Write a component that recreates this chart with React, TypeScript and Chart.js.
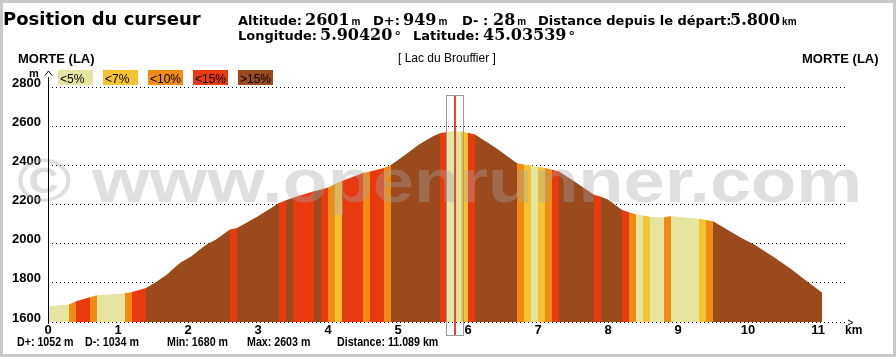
import React, { useEffect, useRef } from 'react';
import { Chart, registerables } from 'chart.js';

Chart.register(...registerables);

const distanceKm = [
  0, 0.3, 0.4, 0.6, 0.7, 1.1, 1.2, 1.4, 1.55, 1.7,
  1.8, 1.9, 2.05, 2.17, 2.26, 2.4, 2.6, 2.7, 3.0, 3.3,
  3.4, 3.5, 3.8, 3.9, 4.0, 4.1, 4.2, 4.5, 4.6, 4.8,
  4.9, 5.1, 5.3, 5.5, 5.6, 5.7, 5.8, 5.9, 6.0, 6.1,
  6.4, 6.7, 6.8, 6.9, 7.0, 7.1, 7.2, 7.3, 7.5, 7.8,
  7.9, 8.0, 8.2, 8.3, 8.4, 8.5, 8.6, 8.8, 8.9, 9.3,
  9.4, 9.5, 9.7, 9.9, 10.1, 10.35, 10.6, 10.8, 11.06,
];
const elevationM = [
  1680, 1690, 1706, 1726, 1737, 1747, 1753, 1774, 1805, 1842,
  1876, 1905, 1936, 1970, 1995, 2021, 2072, 2080, 2140, 2208,
  2222, 2234, 2268, 2276, 2287, 2305, 2320, 2361, 2368, 2387,
  2402, 2453, 2506, 2548, 2564, 2570, 2574, 2573, 2567, 2558,
  2489, 2411, 2404, 2399, 2393, 2387, 2378, 2368, 2322, 2250,
  2240, 2225, 2172, 2161, 2150, 2144, 2138, 2133, 2141, 2127,
  2121, 2114, 2072, 2030, 1993, 1936, 1875, 1820, 1749,
];
// slope class of each segment (point i -> i+1): 0 <5%, 1 <7%, 2 <10%, 3 <15%, 4 >15%
const slopeClass = [
  0, 2, 3, 2, 0, 2, 3, 4, 4, 4,
  4, 4, 4, 4, 4, 4, 3, 4, 4, 3,
  4, 3, 4, 3, 2, 1, 3, 2, 3, 2,
  4, 4, 4, 4, 3, 0, 0, 1, 3, 4,
  4, 2, 1, 0, 1, 2, 3, 4, 4, 3,
  4, 4, 3, 2, 0, 1, 0, 2, 0, 1,
  2, 4, 4, 4, 4, 4, 4, 4,
];
const slopeLabels = ['<5%', '<7%', '<10%', '<15%', '>15%'];
const slopeColors = ['#e6e5a0', '#f5c232', '#f08c14', '#e9390f', '#9b4a1d'];

const xTicks = [0, 1, 2, 3, 4, 5, 6, 7, 8, 9, 10, 11];
const yTicks = [1600, 1800, 2000, 2200, 2400, 2600, 2800];
const xMaxKm = 80 / 7;
const cursorKm = 5.8;

const startName = 'MORTE (LA)';
const endName = 'MORTE (LA)';
const midName = '[ Lac du Brouffier ]';
const summaryTexts = ['D+: 1052 m', 'D-: 1034 m', 'Min: 1680 m', 'Max: 2603 m', 'Distance: 11.089 km'];

const LBL = 'bold 13px "DejaVu Sans", Verdana, sans-serif';
const VAL = 'bold 16px "DejaVu Serif", serif';
const UNIT = 'bold 10px "Liberation Sans", Arial, sans-serif';
const ARIALB = (s: number) => `bold ${s}px "Liberation Sans", Arial, sans-serif`;
const ARIAL = (s: number) => `${s}px "Liberation Sans", Arial, sans-serif`;

// group: [x, label, value, unit]
type Group = [number, string, number, string, string, string];
const row1: Group[] = [
  [238, 'Altitude:', 305, '2601', 'm', UNIT],
  [373, 'D+:', 403, '949', 'm', UNIT],
  [462, 'D- :', 493, '28', 'm', UNIT],
  [538, 'Distance depuis le départ:', 730, '5.800', 'km', UNIT],
];
const row2: Group[] = [
  [238, 'Longitude:', 320, '5.90420', '°', LBL],
  [413, 'Latitude:', 483, '45.03539', '°', LBL],
];

function Groups({ y, groups }: { y: number; groups: Group[] }) {
  return (
    <>
      {groups.map(([x, label, vx, value, unit, uf], i) => (
        <div key={i} style={{ position: 'absolute', left: x, top: y - 40, height: 40, display: 'flex', alignItems: 'baseline', whiteSpace: 'nowrap', color: '#000' }}>
          <span style={{ display: 'inline-block', width: 0, height: 40 }} />
          <span style={{ font: LBL, flexShrink: 0, width: vx - x }}>{label}</span>
          <span style={{ font: VAL, flexShrink: 0 }}>{value}</span>
          <span style={{ font: uf, flexShrink: 0, marginLeft: 2 }}>{unit}</span>
        </div>
      ))}
    </>
  );
}

function BL({ x, y, font, children, extra }: any) {
  return (
    <div style={{ position: 'absolute', left: x, top: y - 40, height: 40, display: 'flex', alignItems: 'baseline', whiteSpace: 'nowrap', color: '#000', ...(extra || {}) }}>
      <span style={{ display: 'inline-block', width: 0, height: 40 }} />
      <span style={{ font }}>{children}</span>
    </div>
  );
}

const decor = {
  id: 'decor',
  afterDatasetsDraw(chart: any) {
    const { ctx, chartArea: a, scales } = chart;
    // watermark
    ctx.save();
    ctx.font = 'bold 62px "Liberation Sans", Arial, sans-serif';
    const txt = '© www.openrunner.com';
    const w = ctx.measureText(txt).width;
    ctx.translate(17, 202);
    ctx.scale(845 / w, 1);
    ctx.fillStyle = 'rgba(165,165,165,0.36)';
    ctx.textBaseline = 'alphabetic';
    ctx.fillText(txt, 0, 0);
    ctx.restore();

    ctx.save();
    ctx.strokeStyle = '#000';
    ctx.lineWidth = 1;
    ctx.beginPath();
    const ax = Math.round(a.left) + 0.5;
    ctx.moveTo(ax, 77);
    ctx.lineTo(ax, a.bottom + 2);
    ctx.moveTo(ax - 3.5, 75.5);
    ctx.lineTo(ax, 71);
    ctx.lineTo(ax + 3.5, 75.5);
    const ay = Math.round(a.bottom) + 0.5;
    ctx.moveTo(a.right, ay - 2.5);
    ctx.lineTo(a.right + 5, ay);
    ctx.lineTo(a.right, ay + 2.5);
    ctx.stroke();

    const cx = Math.round(scales.x.getPixelForValue(cursorKm)) + 1;
    ctx.strokeStyle = '#9a9a9a';
    ctx.strokeRect(cx - 8.5, a.top + 8.5, 17, a.bottom - a.top + 5);
    ctx.fillStyle = '#e0483a';
    ctx.fillRect(cx - 1, a.top + 9, 2, a.bottom - a.top + 4);
    ctx.restore();
  },
};

export default function App() {
  const ref = useRef<HTMLCanvasElement>(null);
  useEffect(() => {
    if (!ref.current) return;
    const points = distanceKm.map((d, i) => ({ x: d, y: elevationM[i] }));
    const tickFont = { family: "'Liberation Sans', Arial, sans-serif", size: 13, weight: 'bold' as const };
    const chart = new Chart(ref.current, {
      type: 'line',
      data: {
        datasets: [
          {
            data: points,
            fill: 'start',
            backgroundColor: slopeColors[4],
            borderWidth: 0,
            pointRadius: 0,
            tension: 0,
            segment: {
              backgroundColor: (c: any) => slopeColors[slopeClass[c.p0DataIndex]],
            },
          } as any,
        ],
      },
      options: {
        animation: false,
        responsive: false,
        events: [],
        layout: { padding: { left: 0, top: 87, right: 48, bottom: 15 } },
        plugins: { legend: { display: false }, tooltip: { enabled: false } },
        scales: {
          x: {
            type: 'linear',
            min: 0,
            max: xMaxKm,
            afterFit: (s: any) => { s.height = 20; },
            afterBuildTicks: (s: any) => { s.ticks = xTicks.map((v) => ({ value: v })); },
            grid: { display: false },
            border: { display: false },
            ticks: { autoSkip: false, maxRotation: 0, font: tickFont, color: '#000', padding: -7, callback: (v: any) => String(v) },
          },
          y: {
            type: 'linear',
            min: 1600,
            max: 2800,
            afterFit: (s: any) => { s.width = 48; },
            afterBuildTicks: (s: any) => { s.ticks = yTicks.map((v) => ({ value: v })); },
            grid: { color: '#000', lineWidth: 1, drawTicks: false },
            border: { display: false, dash: [1, 3] },
            ticks: { autoSkip: false, font: tickFont, color: '#000', padding: 7, labelOffset: -4, callback: (v: any) => String(v) },
          },
        },
      } as any,
      plugins: [decor],
    });
    return () => chart.destroy();
  }, []);

  const legendLefts = [58, 103, 148, 193, 238];
  const summaryX = [17, 85, 167, 247, 337];

  return (
    <div style={{ position: 'fixed', left: 0, top: 0, width: 896, height: 357, background: '#fff', overflow: 'hidden' }}>
      <canvas ref={ref} width={896} height={357} style={{ position: 'absolute', left: 0, top: 0 }} />
      <BL x={3} y={25} font={'bold 18px "DejaVu Sans", Verdana, sans-serif'}>Position du curseur</BL>
      <Groups y={25} groups={row1} />
      <Groups y={40} groups={row2} />
      <BL x={18} y={63} font={ARIALB(13)}>{startName}</BL>
      <BL x={802} y={63} font={ARIALB(13)}>{endName}</BL>
      <BL x={398} y={62} font={ARIAL(12)}>{midName}</BL>
      {slopeLabels.map((l, i) => (
        <div key={i} style={{ position: 'absolute', left: legendLefts[i], top: 70, width: 35, height: 15, background: slopeColors[i] }} />
      ))}
      {slopeLabels.map((l, i) => (
        <BL key={'t' + i} x={legendLefts[i] + 2} y={83} font={ARIAL(12)}>{l}</BL>
      ))}
      <BL x={29} y={77} font={ARIALB(11)}>m</BL>
      <BL x={845} y={334} font={ARIALB(12)}>km</BL>
      {summaryTexts.map((t, i) => (
        <BL key={'s' + i} x={summaryX[i]} y={346} font={ARIALB(13)} extra={{ transform: 'scaleX(0.82)', transformOrigin: 'left center' }}>{t}</BL>
      ))}
      <div style={{ position: 'absolute', left: 0, top: 0, width: 896, height: 357, border: '3px solid #c8c8c8', boxSizing: 'border-box', pointerEvents: 'none' }} />
    </div>
  );
}
